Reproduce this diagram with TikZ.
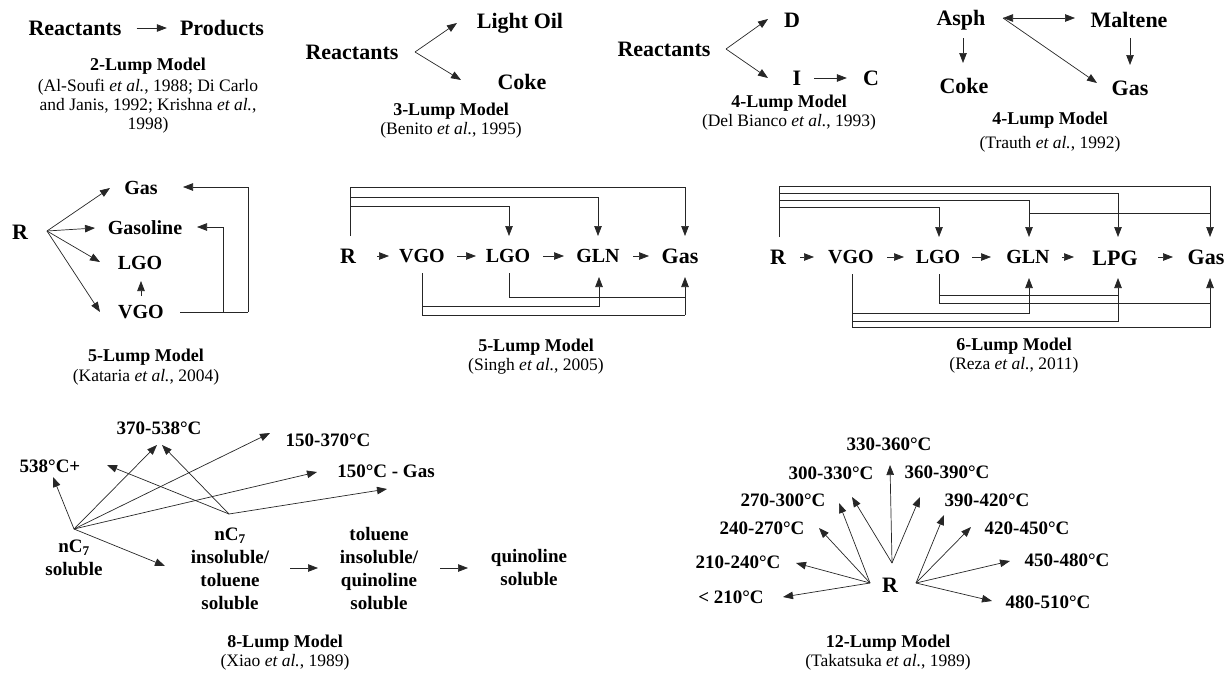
\documentclass[tikz,border=0pt]{standalone}
\usepackage{fontspec}
\setmainfont{Liberation Serif}
\usetikzlibrary{arrows.meta,calc}
\begin{document}
\begin{tikzpicture}[x=1pt,y=-1pt,
 lab/.style={font=\fontsize{22}{24}\selectfont\bfseries, inner sep=0pt},
 labm/.style={font=\fontsize{20}{22}\selectfont\bfseries, inner sep=0pt},
 labs/.style={font=\fontsize{19}{23}\selectfont\bfseries, inner sep=0pt, align=center},
 capt/.style={font=\fontsize{18}{20}\selectfont\bfseries, inner sep=0pt},
 cit/.style={font=\fontsize{17.5}{19}\selectfont, inner sep=0pt, align=center, anchor=north},
 arr/.style={-{Triangle[length=10pt,width=7.5pt]}, line width=0.7pt, black!85},
 darr/.style={{Triangle[length=10pt,width=7.5pt]}-{Triangle[length=10pt,width=7.5pt]}, line width=0.7pt, black!85},
 ln/.style={line width=0.7pt, black!85},
]
\useasboundingbox (0,0) rectangle (1225,672);

% ---------- 2-lump
\node[lab] (p1r) at (75,28) {Reactants};
\node[lab] (p1p) at (222,28) {Products};
\draw[arr] ([xshift=15pt]p1r.east) -- ([xshift=-13pt]p1p.west);
\node[capt] (c1) at (148,66) {2-Lump Model};
\node[cit] (t1) at (148,79) {(Al-Soufi \textit{et al.}, 1988; Di Carlo\\and Janis, 1992; Krishna \textit{et al.},\\1998)};

% ---------- 3-lump
\node[lab] (p2r) at (352,52) {Reactants};
\node[lab] (p2lo) at (520,23) {Light Oil};
\node[lab] (p2c) at (522,82) {Coke};
\coordinate (p2o) at (415,52);
\coordinate (p2a) at (457,23);
\coordinate (p2b) at (461,80);
\draw[arr] (p2o) -- (p2a);
\draw[arr] (p2o) -- (p2b);
\node[capt] (c2) at (451,111) {3-Lump Model};
\node[cit] (t2) at (451,122) {(Benito \textit{et al.}, 1995)};

% ---------- 4-lump Del Bianco
\node[lab] (p3r) at (664,49) {Reactants};
\node[lab] (p3d) at (792,20) {D};
\node[lab] (p3i) at (797,78) {I};
\node[lab] (p3c) at (871,78) {C};
\coordinate (p3o) at (726,49);
\coordinate (p3a) at (768,19);
\coordinate (p3b) at (768,78);
\draw[arr] (p3o) -- (p3a);
\draw[arr] (p3o) -- (p3b);
\draw[arr] ([xshift=13pt]p3i.east) -- ([xshift=-16pt]p3c.west);
\node[capt] (c3) at (789,103) {4-Lump Model};
\node[cit] (t3) at (789,114) {(Del Bianco \textit{et al.}, 1993)};

% ---------- 4-lump Trauth
\node[lab] (p4a) at (961,20) {Asph};
\node[lab] (p4m) at (1129,20) {Maltene};
\node[lab] (p4c) at (964,86) {Coke};
\node[lab] (p4g) at (1130,88) {Gas};
\coordinate (p4l) at (1003,18);
\coordinate (p4r) at (1075,18);
\coordinate (p4d) at (1097,83);
\coordinate (p4s1) at (963,38);
\coordinate (p4e1) at (963,63);
\coordinate (p4s2) at (1130,38);
\coordinate (p4e2) at (1130,65);
\draw[darr] (p4l) -- (p4r);
\draw[arr] (p4l) -- (p4d);
\draw[arr] (p4s1) -- (p4e1);
\draw[arr] (p4s2) -- (p4e2);
\node[capt] (c4) at (1050,120) {4-Lump Model};
\node[cit] (t4) at (1050,136) {(Trauth \textit{et al.}, 1992)};

% ---------- 5-lump Kataria
\node[lab] (k0) at (20,232) {R};
\node[labm] (kg) at (141,188) {Gas};
\node[labm] (kgl) at (145,228) {Gasoline};
\node[labm] (kl) at (140,263) {LGO};
\node[labm] (kv) at (141,312) {VGO};
\coordinate (ko) at (47,231);
\draw[arr] (ko) -- (110,188);
\draw[arr] (ko) -- (95,228);
\draw[arr] (ko) -- (100,262);
\draw[arr] (ko) -- (100,312);
\draw[arr] (141,296) -- (141,281);
\coordinate (kv1) at (180,312);
\coordinate (kr1) at (248,312);
\coordinate (kr2) at (223,312);
\draw[ln] (kv1) -- (kr1);
\draw[arr] (kr1) -- (248,187) -- (183,187);
\draw[arr] (kr2) -- (223,227) -- (197,227);
\node[capt] (c5) at (146,357) {5-Lump Model};
\node[cit] (t5) at (146,369) {(Kataria \textit{et al.}, 2004)};

% ---------- 5-lump Singh
\node[lab] (s0) at (348,256) {R};
\node[labm] (sv) at (422,256) {VGO};
\node[labm] (sl) at (508,256) {LGO};
\node[labm] (sg) at (598,256) {GLN};
\node[lab] (sgas) at (680,256) {Gas};
\draw[arr] (377,256) -- (389,256);
\draw[arr] (457,256) -- (476,256);
\draw[arr] (543,256) -- (564,256);
\draw[arr] (633,256) -- (649,256);
\draw[arr] (350,236) |- (685,187) -- (685,236);
\draw[arr] (350,197) -| (598,236);
\draw[arr] (350,206) -| (509,236);
\draw[ln] (509,273) |- (685,297);
\draw[ln] (422,273) |- (685,315);
\draw[arr] (685,315) -- (685,277);
\draw[arr] (422,306) -| (599,277);
\node[capt] (c6) at (536,347) {5-Lump Model};
\node[cit] (t6) at (536,358) {(Singh \textit{et al.}, 2005)};

% ---------- 6-lump Reza
\node[lab] (r0) at (778,257) {R};
\node[labm] (rv) at (851,257) {VGO};
\node[labm] (rl) at (938,257) {LGO};
\node[labm] (rg) at (1028,257) {GLN};
\node[lab] (rp) at (1115,258) {LPG};
\node[lab] (rgas) at (1206,257) {Gas};
\draw[arr] (800,257) -- (814,257);
\draw[arr] (887,257) -- (904,257);
\draw[arr] (972,257) -- (991,257);
\draw[arr] (1062,257) -- (1074,257);
\draw[arr] (1158,257) -- (1173,257);
\draw[arr] (779,237) |- (1210,186) -- (1210,237);
\draw[arr] (779,193) -| (1118,237);
\draw[arr] (779,200) -| (1029,237);
\draw[arr] (779,207) -| (939,237);
\draw[ln] (1029,213) -- (1210,213);
\draw[ln] (939,274) -- (939,303);
\draw[ln] (939,295) -- (1118,295);
\draw[ln] (939,303) -- (1210,303);
\draw[arr] (852,274) |- (1210,327) -- (1210,278);
\draw[arr] (852,313) -| (1029,278);
\draw[arr] (852,321) -| (1118,278);
\node[capt] (c7) at (1014,346) {6-Lump Model};
\node[cit] (t7) at (1014,357) {(Reza \textit{et al.}, 2011)};

% ---------- 8-lump Xiao
\node[labs] (x1) at (159,428) {370-538°C};
\node[labs] (x2) at (328,440) {150-370°C};
\node[labs] (x3) at (50,466) {538°C+};
\node[labs] (x4) at (386,471) {150°C - Gas};
\node[labs] (x5) at (74,558) {nC\textsubscript{7}\\soluble};
\node[labs] (x6) at (230,569) {nC\textsubscript{7}\\insoluble/\\toluene\\soluble};
\node[labs] (x7) at (379,569) {toluene\\insoluble/\\quinoline\\soluble};
\node[labs] (x8) at (529,568) {quinoline\\soluble};
\coordinate (xo1) at (74,529);
\coordinate (xo2) at (229,514);
\draw[arr] (xo1) -- (53,477);
\draw[arr] (xo1) -- (157,445);
\draw[arr] (xo1) -- (270,433);
\draw[arr] (xo1) -- (317,472);
\draw[arr] (xo1) -- (165,566);
\draw[arr] (xo2) -- (162,445);
\draw[arr] (xo2) -- (107,465);
\draw[arr] (xo2) -- (387,489);
\draw[arr] (290,568) -- (318,568);
\draw[arr] (440,568) -- (468,568);
\node[capt] (c8) at (285,643) {8-Lump Model};
\node[cit] (t8) at (285,654) {(Xiao \textit{et al.}, 1989)};

% ---------- 12-lump Takatsuka
\node[lab] (z0) at (890,585) {R};
\node[labs] (z1) at (889,444) {330-360°C};
\node[labs] (z2) at (831,473) {300-330°C};
\node[labs] (z3) at (947,472) {360-390°C};
\node[labs] (z4) at (783,500) {270-300°C};
\node[labs] (z5) at (762,528) {240-270°C};
\node[labs] (z6) at (738,562) {210-240°C};
\node[labs] (z7) at (731,597) {< 210°C};
\node[labs] (z8) at (987,500) {390-420°C};
\node[labs] (z9) at (1027,528) {420-450°C};
\node[labs] (z10) at (1067,560) {450-480°C};
\node[labs] (z11) at (1048,602) {480-510°C};
\coordinate (zt) at (892,563);
\coordinate (zl) at (870,583);
\coordinate (zr) at (916,583);
\draw[arr] (zt) -- (890,465);
\draw[arr] (zt) -- (852,497);
\draw[arr] (zt) -- (920,497);
\draw[arr] (zl) -- (839,503);
\draw[arr] (zl) -- (819,528);
\draw[arr] (zl) -- (796,563);
\draw[arr] (zl) -- (783,597);
\draw[arr] (zr) -- (944,515);
\draw[arr] (zr) -- (971,527);
\draw[arr] (zr) -- (1010,561);
\draw[arr] (zr) -- (992,601);
\node[capt] (c9) at (888,643) {12-Lump Model};
\node[cit] (t9) at (888,654) {(Takatsuka \textit{et al.}, 1989)};
\end{tikzpicture}
\end{document}
